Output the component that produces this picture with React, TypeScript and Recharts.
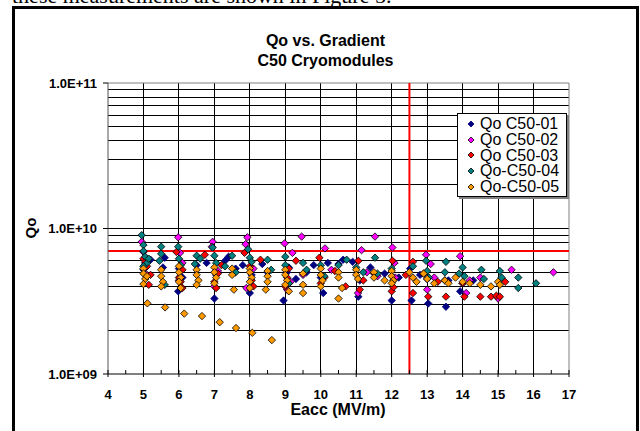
import React from "react";
import { ScatterChart, Scatter, XAxis, YAxis, ReferenceLine } from "recharts";

// Qo values are in units of 1e9
const qoC5001: [number, number][] = [
  [5.0, 5.2], [5.05, 5.8], [5.2, 6.1], [5.6, 6.3], [5.55, 5.4], [5.98, 3.7], [6.0, 5.3], [6.1, 4.6],
  [6.5, 5.6], [6.78, 5.8], [7.0, 3.3], [7.05, 4.8], [7.3, 6.0], [7.4, 6.4], [7.6, 5.3], [7.8, 5.6],
  [8.0, 3.6], [8.05, 4.8], [8.35, 5.7], [8.5, 5.0], [8.95, 3.2], [9.05, 5.0], [9.1, 5.4], [9.3, 4.5],
  [9.6, 5.0], [9.8, 5.6], [10.0, 4.6], [10.07, 3.6], [10.2, 5.8], [10.5, 5.7], [10.63, 6.1], [10.9, 5.9],
  [11.06, 3.4], [11.1, 4.4], [11.4, 5.4], [11.8, 4.9], [12.0, 3.2], [12.2, 4.6], [12.52, 5.3], [12.56, 3.2],
  [12.8, 4.8], [13.03, 3.05], [13.0, 4.5], [13.53, 2.9], [13.6, 4.4], [13.93, 3.7], [14.0, 4.2], [14.3, 4.4],
];

const qoC5002: [number, number][] = [
  [4.95, 8.1], [5.0, 6.9], [5.05, 5.4], [5.1, 4.8], [5.98, 8.7], [6.03, 6.8], [6.1, 5.8], [6.0, 4.4],
  [6.95, 8.1], [6.93, 7.5], [7.0, 4.0], [7.1, 5.1], [7.93, 8.7], [7.88, 7.8], [7.9, 3.9], [8.1, 5.3],
  [8.98, 7.9], [9.05, 3.8], [9.15, 4.3], [9.2, 6.8], [9.46, 8.8], [9.5, 4.8], [10.12, 7.3], [10.05, 4.7],
  [10.3, 5.2], [11.15, 7.1], [11.05, 3.6], [11.3, 5.0], [11.53, 8.8], [11.6, 4.7], [12.02, 7.4], [12.1, 4.6],
  [12.08, 5.8], [12.97, 6.6], [13.1, 5.7], [13.2, 4.6], [13.0, 3.8], [13.93, 6.45], [14.1, 3.6], [14.2, 4.4],
  [14.5, 4.6], [15.0, 3.3], [15.38, 5.2], [16.56, 5.0],
];

const qoC5003: [number, number][] = [
  [5.0, 6.2], [5.05, 5.9], [5.15, 4.1], [5.2, 4.8], [5.1, 5.5], [5.93, 6.9], [6.0, 4.6], [6.1, 3.9],
  [6.05, 4.3], [6.1, 5.2], [6.73, 6.6], [7.0, 4.3], [7.1, 4.9], [7.05, 3.9], [7.2, 5.6], [7.85, 6.8],
  [8.05, 4.4], [8.0, 5.5], [8.1, 4.0], [8.3, 6.1], [9.0, 4.0], [9.05, 4.6], [9.1, 5.3], [9.3, 6.0],
  [9.96, 6.3], [10.0, 4.2], [10.1, 4.6], [10.4, 5.1], [10.7, 4.0], [11.06, 6.0], [11.1, 3.8], [11.2, 4.4],
  [11.5, 4.9], [12.02, 6.0], [12.0, 3.7], [12.05, 3.95], [12.4, 4.8], [12.6, 5.9], [12.6, 3.6], [12.9, 4.9],
  [13.03, 3.4], [13.3, 4.3], [13.53, 3.4], [13.5, 4.4], [14.0, 4.2], [14.05, 3.4], [14.5, 3.4], [14.8, 3.4],
  [14.95, 3.45], [15.05, 3.4], [15.2, 4.3],
];

const qoC5004: [number, number][] = [
  [4.95, 9.0], [5.0, 7.7], [5.0, 7.0], [5.05, 6.4], [5.1, 5.8], [5.15, 6.2], [5.0, 5.5], [5.5, 7.5],
  [5.5, 6.7], [5.45, 6.0], [5.6, 4.1], [5.98, 7.5], [6.0, 6.2], [6.05, 5.6], [6.5, 6.5], [6.6, 6.2],
  [6.45, 5.7], [6.95, 7.4], [7.0, 6.5], [7.05, 5.8], [7.3, 5.5], [7.5, 6.5], [7.6, 5.0], [7.95, 7.2],
  [8.0, 6.3], [8.05, 5.9], [8.5, 6.1], [8.6, 5.2], [9.0, 6.4], [9.0, 5.6], [9.1, 4.2], [9.5, 5.8],
  [9.6, 5.2], [10.0, 5.6], [10.1, 4.7], [10.5, 5.6], [10.73, 6.1], [11.0, 5.4], [11.2, 5.0], [11.53, 6.3],
  [11.6, 4.9], [12.0, 5.3], [12.05, 4.4], [12.6, 5.5], [12.97, 6.0], [13.0, 5.1], [13.05, 4.6], [13.53, 5.9],
  [13.5, 5.0], [13.9, 4.9], [14.0, 5.4], [14.05, 4.7], [14.53, 5.2], [14.6, 4.5], [15.05, 5.1], [15.1, 4.6],
  [15.57, 4.6], [15.57, 3.9], [16.07, 4.2],
];

const qoC5005: [number, number][] = [
  [5.0, 5.3], [5.0, 4.9], [5.05, 4.5], [5.0, 4.15], [5.1, 4.7], [5.11, 3.06], [5.5, 5.2], [5.5, 4.7],
  [5.55, 4.3], [5.5, 4.0], [5.61, 2.87], [6.0, 5.5], [6.0, 5.0], [6.05, 4.6], [6.0, 4.3], [6.05, 3.9],
  [6.15, 2.6], [6.5, 5.2], [6.5, 4.8], [6.55, 4.4], [6.5, 4.1], [6.65, 2.5], [7.0, 5.4], [7.0, 5.0],
  [7.05, 4.6], [7.0, 4.2], [7.15, 2.27], [7.5, 4.8], [7.5, 5.3], [7.55, 3.8], [7.61, 2.07], [8.0, 5.3],
  [8.0, 5.0], [8.05, 4.6], [8.0, 4.3], [8.0, 3.9], [8.07, 1.92], [8.5, 5.1], [8.5, 4.7], [8.5, 4.3],
  [8.45, 3.8], [8.62, 1.71], [9.0, 5.2], [9.0, 4.8], [9.05, 4.4], [9.0, 4.1], [9.1, 3.7], [9.5, 4.9],
  [9.5, 4.1], [9.5, 3.6], [10.0, 5.3], [10.0, 4.8], [10.05, 4.4], [10.0, 4.0], [10.5, 5.0], [10.5, 4.6],
  [10.6, 3.9], [10.5, 3.3], [11.0, 5.2], [11.0, 4.8], [11.05, 4.5], [11.5, 5.0], [11.5, 4.6], [11.8, 4.4],
  [12.0, 5.1], [12.0, 4.7], [12.05, 4.4], [12.0, 4.2], [12.5, 5.0], [12.6, 4.6], [12.7, 4.3], [12.9, 4.9],
  [13.0, 4.5], [13.2, 4.2], [13.5, 4.4], [13.6, 4.2], [13.8, 4.6], [14.0, 4.3], [14.2, 4.2], [14.5, 4.1],
  [14.8, 4.0], [15.0, 4.3], [15.05, 4.1],
];

const seriesNames = ["Qo C50-01", "Qo C50-02", "Qo C50-03", "Qo-C50-04", "Qo-C50-05"];
const seriesFill = ["#000080", "#FF00FF", "#FF0000", "#008080", "#FF9900"];
const seriesStroke = ["#000080", "#000000", "#000000", "#000000", "#000000"];
const seriesData = [qoC5001, qoC5002, qoC5003, qoC5004, qoC5005];

const xAxisTicks = [4, 4.5, 5, 5.5, 6, 6.5, 7, 7.5, 8, 8.5, 9, 9.5, 10, 10.5, 11, 11.5, 12, 12.5, 13, 13.5, 14, 14.5, 15, 15.5, 16, 16.5, 17];
const xGridLines = [5, 6, 7, 8, 9, 10, 11, 12, 13, 14, 15, 16];
const yTicks = [1, 10, 100];
const yTickLabels = ["1.0E+09", "1.0E+10", "1.0E+11"];
const yGridLines = [2, 3, 4, 5, 6, 7, 8, 9, 10, 20, 30, 40, 50, 60, 70, 80, 90];

const qoLimit = 7;
const gradientLimit = 12.5;

const font = "'Liberation Sans', Arial, sans-serif";

const Diamond = ({ cx, cy, fill, stroke, r = 3.7 }: any) => (
  <path
    d={`M${cx},${cy - r}L${cx + r},${cy}L${cx},${cy + r}L${cx - r},${cy}Z`}
    fill={fill}
    stroke={stroke}
    strokeWidth={0.8}
  />
);

const XTick = (props: any) => {
  const { x, y, payload } = props;
  const v = payload.value;
  const major = Number.isInteger(v);
  return (
    <g>
      <line x1={x} x2={x} y1={y - 4} y2={major ? y + 3 : y} stroke="#000" strokeWidth={1} />
      {major && (
        <text x={x} y={y + 25} textAnchor="middle" fontFamily={font} fontWeight={700} fontSize={13} fill="#000">
          {v}
        </text>
      )}
    </g>
  );
};

export default function App() {
  return (
    <div style={{ position: "absolute", left: 0, top: 0, width: 640, height: 431, overflow: "hidden", background: "#fff" }}>
      <div style={{ position: "absolute", left: 12, top: -17, fontFamily: "'Liberation Serif', 'Times New Roman', serif", fontSize: 22, whiteSpace: "nowrap" }}>
        these measurements are shown in Figure 5.
      </div>
      <div style={{ position: "absolute", left: 12, top: 6, width: 627, height: 440, border: "3px solid #000", boxSizing: "border-box" }} />

      <div style={{ position: "absolute", left: 0, top: 0 }}>
        <ScatterChart width={640} height={431} margin={{ top: 83, right: 71, bottom: 27, left: 48 }}>
          <XAxis
            type="number"
            dataKey="x"
            domain={[4, 17]}
            ticks={xAxisTicks}
            interval={0}
            tick={<XTick />}
            tickLine={false}
            tickSize={0}
            tickMargin={0}
            axisLine={{ stroke: "#000", strokeWidth: 1 }}
            height={30}
            allowDataOverflow
          />
          <YAxis
            type="number"
            dataKey="q"
            scale="log"
            domain={[1, 100]}
            ticks={yTicks}
            interval={0}
            tickFormatter={(v: number) => yTickLabels[yTicks.indexOf(v)]}
            tick={{ fontFamily: font, fontWeight: 700, fontSize: 13, fill: "#000" }}
            tickSize={5}
            tickMargin={6}
            tickLine={{ stroke: "#000" }}
            axisLine={{ stroke: "#555" }}
            width={60}
            allowDataOverflow
          />
          {yGridLines.map((v) => (
            <ReferenceLine key={`hy-${v}`} y={v} stroke="#000" strokeWidth={1} shapeRendering="crispEdges" />
          ))}
          {xGridLines.map((v) => (
            <ReferenceLine key={`vx-${v}`} x={v} stroke="#000" strokeWidth={1} shapeRendering="crispEdges" />
          ))}
          <ReferenceLine y={100} stroke="#808080" strokeWidth={1} />
          <ReferenceLine x={17} stroke="#808080" strokeWidth={1} />
          <ReferenceLine y={qoLimit} stroke="#FF0000" strokeWidth={2} />
          <ReferenceLine x={gradientLimit} stroke="#FF0000" strokeWidth={2} />
          {seriesData.map((rows, i) => (
            <Scatter
              key={seriesNames[i]}
              name={seriesNames[i]}
              data={rows.map(([x, q]) => ({ x, q }))}
              fill={seriesFill[i]}
              isAnimationActive={false}
              shape={(p: any) => <Diamond cx={p.cx} cy={p.cy} fill={seriesFill[i]} stroke={seriesStroke[i]} />}
            />
          ))}
        </ScatterChart>
      </div>

      <div style={{ position: "absolute", left: 0, width: 651, top: 31, textAlign: "center", fontFamily: font, fontWeight: 700, fontSize: 16, lineHeight: "20px" }}>
        Qo vs. Gradient
        <br />
        C50 Cryomodules
      </div>
      <div style={{ position: "absolute", left: 30, top: 228, transform: "translate(-50%, -50%) rotate(-90deg)", fontFamily: font, fontWeight: 700, fontSize: 15 }}>
        Qo
      </div>
      <div style={{ position: "absolute", left: 238, width: 200, top: 401, textAlign: "center", fontFamily: font, fontWeight: 700, fontSize: 16, lineHeight: "18px" }}>
        Eacc (MV/m)
      </div>

      <div
        style={{
          position: "absolute",
          left: 457,
          top: 113,
          width: 110,
          height: 84,
          boxSizing: "border-box",
          background: "#fff",
          border: "1px solid #000",
          boxShadow: "2px 2px 0 #808080",
          paddingTop: 2,
          fontFamily: font,
          fontSize: 16,
        }}
      >
        {seriesNames.map((name, i) => (
          <div key={name} style={{ display: "flex", alignItems: "center", height: 15.8, lineHeight: "15.8px", whiteSpace: "nowrap" }}>
            <svg width={22} height={12} style={{ flex: "none" }}>
              <Diamond cx={13} cy={6} r={3} fill={seriesFill[i]} stroke={seriesStroke[i]} />
            </svg>
            <span>{name}</span>
          </div>
        ))}
      </div>
    </div>
  );
}
